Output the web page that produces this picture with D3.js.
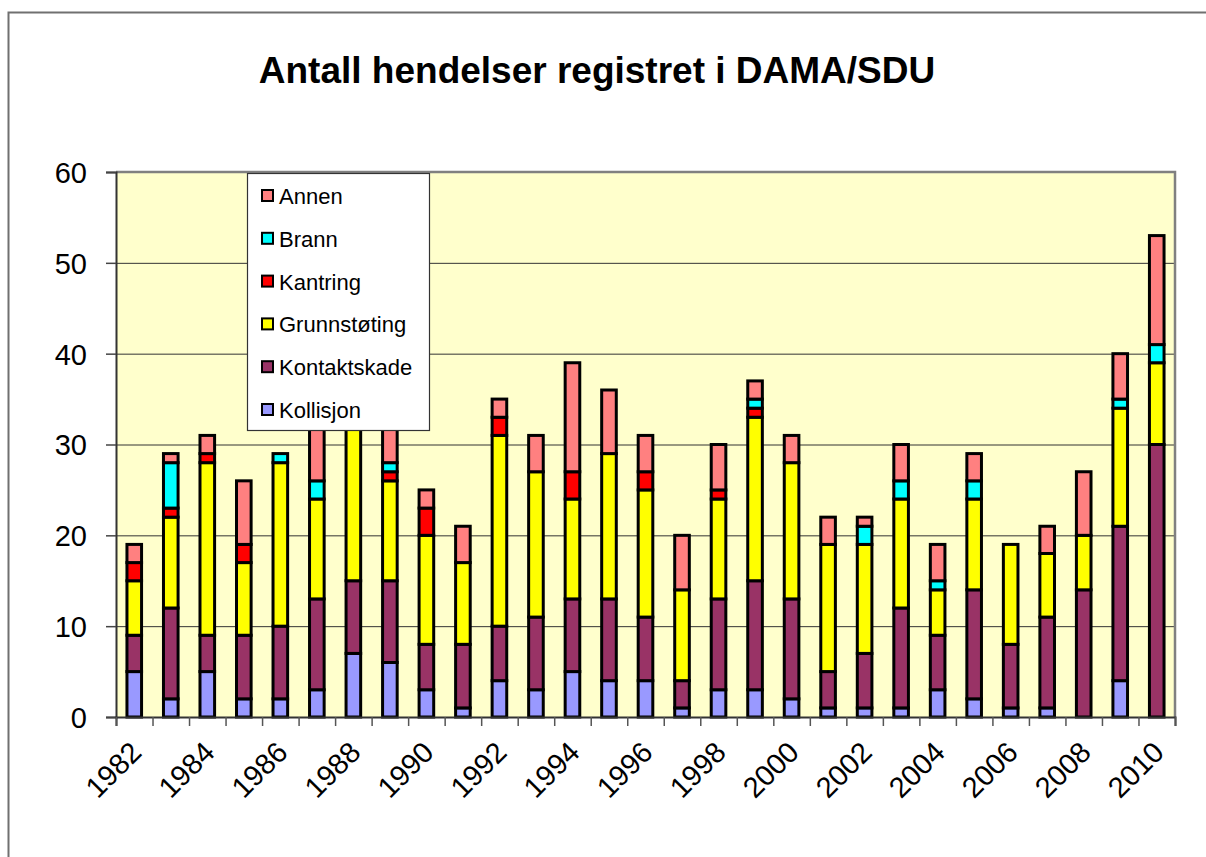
<!DOCTYPE html>
<html>
<head>
<meta charset="utf-8">
<script src="https://cdn.jsdelivr.net/npm/d3@7/dist/d3.min.js"></script>
<style>
  body { margin: 0; background: #fff; }
  svg text { font-family: "Liberation Sans", Arial, sans-serif; fill: #000; }
</style>
</head>
<body>
<svg id="chart" width="1206" height="857"></svg>
<script>
// ==========================================================================
// DATA
// ==========================================================================

var years = [1982, 1983, 1984, 1985, 1986, 1987, 1988, 1989, 1990, 1991,
             1992, 1993, 1994, 1995, 1996, 1997, 1998, 1999, 2000, 2001,
             2002, 2003, 2004, 2005, 2006, 2007, 2008, 2009, 2010]

var kollisjon    = [5, 2, 5, 2, 2, 3, 7, 6, 3, 1, 4, 3, 5, 4, 4, 1, 3, 3, 2, 1, 1, 1, 3, 2, 1, 1, 0, 4, 0]
var kontaktskade = [4, 10, 4, 7, 8, 10, 8, 9, 5, 7, 6, 8, 8, 9, 7, 3, 10, 12, 11, 4, 6, 11, 6, 12, 7, 10, 14, 17, 30]
var grunnstoting = [6, 10, 19, 8, 18, 11, 18, 11, 12, 9, 21, 16, 11, 16, 14, 10, 11, 18, 15, 14, 12, 12, 5, 10, 11, 7, 6, 13, 9]
var kantring     = [2, 1, 1, 2, 0, 0, 0, 1, 3, 0, 2, 0, 3, 0, 2, 0, 1, 1, 0, 0, 0, 0, 0, 0, 0, 0, 0, 0, 0]
var brann        = [0, 5, 0, 0, 1, 2, 0, 1, 0, 0, 0, 0, 0, 0, 0, 0, 0, 1, 0, 0, 2, 2, 1, 2, 0, 0, 0, 1, 2]
var annen        = [2, 1, 2, 7, 0, 7, 0, 5, 2, 4, 2, 4, 12, 7, 4, 6, 5, 2, 3, 3, 1, 4, 4, 3, 0, 3, 7, 5, 12]

// stacking order, bottom to top
var seriesNames  = ["Kollisjon", "Kontaktskade", "Grunnstøting", "Kantring", "Brann", "Annen"]
var seriesValues = [kollisjon, kontaktskade, grunnstoting, kantring, brann, annen]
var seriesColors = ["#9999ff", "#993366", "#ffff00", "#ff0000", "#00ffff", "#ff8080"]

var yTicks = [0, 10, 20, 30, 40, 50, 60]
var title = "Antall hendelser registret i DAMA/SDU"

// ==========================================================================
// D3 MAIN
// ==========================================================================

var svg = d3.select("#chart")
var plot = {left: 116, right: 1175, top: 172, bottom: 717}

// outer chart frame (runs off the page at right and bottom)
svg.append("rect")
  .attr("x", 8.5).attr("y", 12.5)
  .attr("width", 1300).attr("height", 1000)
  .attr("fill", "#fff")
  .attr("stroke", "#707070")
  .attr("stroke-width", 2)

svg.append("text")
  .attr("x", 597).attr("y", 83)
  .attr("text-anchor", "middle")
  .attr("font-size", 37)
  .attr("font-weight", "bold")
  .text(title)

var table = years.map(function(year, i) {
  var row = {year: year}
  seriesNames.forEach(function(name, s) { row[name] = seriesValues[s][i] })
  return row
})
var stacked = d3.stack().keys(seriesNames)(table)

var xScale = d3.scaleBand()
  .domain(years)
  .range([plot.left, plot.right])
  .paddingInner(0.6)
  .paddingOuter(0.3)
var xEdges = d3.scaleLinear().domain([0, years.length]).range([plot.left, plot.right])
var yScale = d3.scaleLinear().domain([0, 60]).range([plot.bottom, plot.top])

// plot background
svg.append("rect")
  .attr("x", plot.left).attr("y", plot.top)
  .attr("width", plot.right - plot.left).attr("height", plot.bottom - plot.top)
  .attr("fill", "#ffffcc")

// gridlines
svg.append("g").selectAll("line").data(yTicks.slice(1, -1)).enter().append("line")
  .attr("x1", plot.left).attr("x2", plot.right)
  .attr("y1", d => yScale(d) + 0.5).attr("y2", d => yScale(d) + 0.5)
  .attr("stroke", "#333")
  .attr("stroke-width", 1)

// top and right border of plot area
svg.append("path")
  .attr("d", "M" + plot.left + "," + plot.top + "H" + plot.right + "V" + plot.bottom)
  .attr("fill", "none")
  .attr("stroke", "#808080")
  .attr("stroke-width", 2.5)

// bars
svg.append("g").selectAll("g").data(stacked).enter().append("g")
  .attr("fill", (d, i) => seriesColors[i])
  .selectAll("rect")
  .data(d => d.filter(p => p[1] > p[0]))
  .enter().append("rect")
  .attr("x", d => xScale(d.data.year))
  .attr("width", xScale.bandwidth())
  .attr("y", d => yScale(d[1]))
  .attr("height", d => yScale(d[0]) - yScale(d[1]))
  .attr("stroke", "#000")
  .attr("stroke-width", 3)

// y axis
var yAxis = d3.axisLeft(yScale).tickValues(yTicks).tickSize(10).tickPadding(19)
var groupY = svg.append("g")
  .attr("transform", "translate(" + plot.left + ",0)")
  .call(yAxis)
groupY.select(".domain").attr("stroke", "#333").attr("stroke-width", 2)
groupY.selectAll(".tick line").attr("stroke", "#444").attr("stroke-width", 1.5)
groupY.selectAll("text")
  .attr("font-size", 29)
  .attr("font-family", "Liberation Sans, Arial, sans-serif")
  .attr("dy", "0.36em")

// x axis: tick marks at band edges, labels every second year
var xAxis = d3.axisBottom(xEdges)
  .tickValues(d3.range(years.length + 1))
  .tickSize(9)
  .tickFormat("")
var groupX = svg.append("g")
  .attr("transform", "translate(0," + plot.bottom + ")")
  .call(xAxis)
groupX.select(".domain").attr("stroke", "#333").attr("stroke-width", 2)
groupX.selectAll(".tick line").attr("stroke", "#555").attr("stroke-width", 1.5)

svg.append("g").selectAll("text")
  .data(years.filter((d, i) => i % 2 == 0))
  .enter().append("text")
  .attr("transform", d => "translate(" + (xScale(d) + xScale.bandwidth() / 2 + 9) + ",754) rotate(-45)")
  .attr("text-anchor", "end")
  .attr("font-size", 29)
  .text(d => d)

// ==========================================================================
// LEGEND
// ==========================================================================

var legend = svg.append("g")
legend.append("rect")
  .attr("x", 247.5).attr("y", 173.5)
  .attr("width", 182).attr("height", 257)
  .attr("fill", "#fff")
  .attr("stroke", "#333")
  .attr("stroke-width", 1.2)

var legendItems = legend.selectAll("g")
  .data(seriesNames.map((name, i) => ({name: name, color: seriesColors[i]})).reverse())
  .enter().append("g")
  .attr("transform", (d, i) => "translate(262," + (196 + i * 42.8) + ")")
legendItems.append("rect")
  .attr("x", 0).attr("y", -6)
  .attr("width", 11).attr("height", 11)
  .attr("fill", d => d.color)
  .attr("stroke", "#000")
  .attr("stroke-width", 2)
legendItems.append("text")
  .attr("x", 17).attr("y", 0)
  .attr("dy", "0.36em")
  .attr("font-size", 22)
  .text(d => d.name)
</script>
</body>
</html>
